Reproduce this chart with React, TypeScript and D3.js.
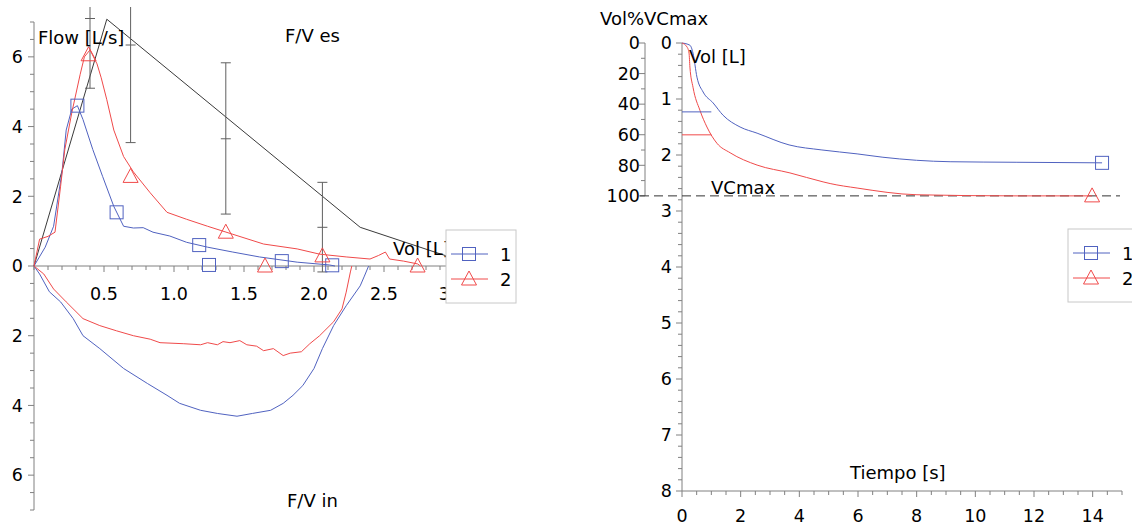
import React from 'react';
import * as d3 from 'd3';

// ---------- Left chart: Flow / Volume ----------
const exp1X = [0, 0.08, 0.14, 0.2, 0.23, 0.27, 0.31, 0.35, 0.42, 0.49, 0.57, 0.64, 0.71, 0.78, 0.85, 0.97, 1.09, 1.24, 1.42, 1.61, 1.88, 2.11, 2.15];
const exp1Y = [0, 0.54, 1.14, 2.7, 3.9, 4.5, 4.6, 4.2, 3.34, 2.57, 1.71, 1.14, 1.09, 1.1, 0.97, 0.86, 0.68, 0.54, 0.4, 0.26, 0.11, 0.03, 0];
const in1X = [0, 0.04, 0.11, 0.19, 0.28, 0.35, 0.47, 0.64, 0.81, 0.95, 1.04, 1.19, 1.31, 1.45, 1.56, 1.69, 1.78, 1.85, 1.92, 2.0, 2.06, 2.14, 2.23, 2.33, 2.36, 2.39];
const in1Y = [0, -0.23, -0.74, -1.03, -1.51, -2.0, -2.37, -2.94, -3.37, -3.71, -3.94, -4.14, -4.23, -4.31, -4.23, -4.14, -3.94, -3.71, -3.43, -2.94, -2.37, -1.71, -1.14, -0.57, -0.29, 0];
const exp2X = [0, 0.04, 0.1, 0.15, 0.19, 0.22, 0.27, 0.33, 0.36, 0.4, 0.45, 0.48, 0.52, 0.57, 0.64, 0.71, 0.83, 0.95, 1.09, 1.24, 1.42, 1.64, 1.88, 2.04, 2.23, 2.4, 2.46, 2.51, 2.54, 2.64, 2.74, 2.76];
const exp2Y = [0, 0.77, 0.85, 0.97, 2.29, 3.34, 4.4, 5.5, 6.0, 6.2, 5.8, 5.4, 4.77, 3.9, 3.14, 2.7, 2.1, 1.54, 1.34, 1.14, 0.91, 0.63, 0.49, 0.34, 0.26, 0.2, 0.3, 0.4, 0.2, 0.14, 0.06, 0];
const in2X = [0, 0.07, 0.14, 0.23, 0.35, 0.47, 0.59, 0.71, 0.83, 0.9, 1.07, 1.19, 1.24, 1.31, 1.35, 1.4, 1.47, 1.52, 1.59, 1.64, 1.71, 1.78, 1.83, 1.91, 1.97, 2.04, 2.14, 2.2, 2.23, 2.26, 2.27];
const in2Y = [0, -0.23, -0.66, -1.03, -1.51, -1.71, -1.86, -2.0, -2.1, -2.2, -2.23, -2.26, -2.2, -2.26, -2.17, -2.2, -2.14, -2.26, -2.3, -2.43, -2.37, -2.57, -2.5, -2.46, -2.23, -2.0, -1.6, -1.23, -0.75, -0.17, 0];
const mark1X = [0.31, 0.59, 1.18, 1.25, 1.77, 2.13];
const mark1Y = [4.6, 1.54, 0.6, 0.03, 0.14, 0.02];
const mark2X = [0.39, 0.69, 1.37, 1.65, 2.06, 2.74];
const mark2Y = [6.06, 2.57, 0.97, 0.0, 0.29, 0.0];
// predicted (reference) curve
const refX = [0, 0.52, 2.33, 3.05];
const refY = [0, 7.08, 1.11, 0.15];
// error bars
const errX = [0.4, 0.69, 1.37, 2.06];
const errMean = [7.1, 6.34, 3.65, 1.11];
const errLow = [5.1, 3.54, 1.49, -0.17];
const errHigh = [9.1, 9.14, 5.83, 2.4];
const flowTicks = [-6, -4, -2, 0, 2, 4, 6];
const volTicks = [0.5, 1.0, 1.5, 2.0, 2.5, 3];

// ---------- Right chart: Volume / Time ----------
const t1 = [0, 0.27, 0.375, 0.51, 0.72, 1.06, 1.4, 1.98, 2.56, 3.65, 4.77, 5.97, 6.85, 9.14, 11.39, 14.32];
const v1 = [0, 0.04, 0.18, 0.61, 0.875, 1.07, 1.29, 1.5, 1.61, 1.82, 1.91, 1.98, 2.04, 2.12, 2.13, 2.14];
const t2 = [0, 0.17, 0.24, 0.27, 0.375, 0.61, 0.85, 1.19, 1.64, 2.56, 3.68, 4.81, 5.05, 5.97, 8.01, 11.42, 13.98];
const v2 = [0, 0.07, 0.18, 0.43, 0.79, 1.2, 1.5, 1.79, 1.96, 2.18, 2.32, 2.48, 2.51, 2.59, 2.71, 2.73, 2.73];
const end1 = { t: 14.32, v: 2.14 };
const end2 = { t: 13.98, v: 2.73 };
const fev1 = [1.23, 1.64]; // horizontal markers at t = 0..1
const VCMAX = 2.73;
const timeTicks = [0, 2, 4, 6, 8, 10, 12, 14];
const volLTicks = [0, 1, 2, 3, 4, 5, 6, 7, 8];
const pctTicks = [0, 20, 40, 60, 80, 100];
const seriesNames = ['1', '2'];

const BLUE = '#5062c0';
const RED = '#f04a4a';
const AXIS = '#808080';
const FONT = 'DejaVu Sans, Verdana, sans-serif';

const zip = (xs: number[], ys: number[]) => xs.map((x, i) => [x, ys[i]] as [number, number]);

function Square({ x, y, c }: { x: number; y: number; c: string }) {
  return <rect x={x - 6.5} y={y - 6.5} width={13} height={13} fill="none" stroke={c} strokeWidth={1} />;
}
function Tri({ x, y, c }: { x: number; y: number; c: string }) {
  return <path d={`M${x},${y - 8}L${x + 7.5},${y + 6}L${x - 7.5},${y + 6}Z`} fill="none" stroke={c} strokeWidth={1} />;
}

function Legend({ x, y, w }: { x: number; y: number; w: number }) {
  return (
    <g>
      <rect x={x} y={y} width={w} height={73} fill="#fff" stroke="#c8c8c8" strokeWidth={1} />
      <line x1={x + 5} x2={x + 42} y1={y + 24} y2={y + 24} stroke={BLUE} />
      <Square x={x + 23} y={y + 24} c={BLUE} />
      <text x={x + 54} y={y + 31} fontSize={18} fontFamily={FONT}>{seriesNames[0]}</text>
      <line x1={x + 5} x2={x + 42} y1={y + 49} y2={y + 49} stroke={RED} />
      <Tri x={x + 23} y={y + 49} c={RED} />
      <text x={x + 54} y={y + 56} fontSize={18} fontFamily={FONT}>{seriesNames[1]}</text>
    </g>
  );
}

export default function App() {
  // left scales
  const x = d3.scaleLinear().domain([0, 3]).range([34, 454]);
  const y = d3.scaleLinear().domain([-7, 7]).range([510, 22]);
  const lineL = d3.line<[number, number]>().x((d) => x(d[0])).y((d) => y(d[1]));

  // right scales
  const t = d3.scaleLinear().domain([0, 15]).range([682, 1122]);
  const v = d3.scaleLinear().domain([0, 8]).range([43, 491]);
  const pct = d3.scaleLinear().domain([0, 100]).range([v(0), v(VCMAX)]);
  const lineR = d3.line<[number, number]>().x((d) => t(d[0])).y((d) => v(d[1])).curve(d3.curveMonotoneX);

  const flowMinor = d3.range(-7, 7.01, 0.5);
  const volMinor = d3.range(0, 3.11, 0.1);
  const timeMinor = d3.range(0, 15.01, 0.5);
  const volLMinor = d3.range(0, 8.01, 0.2);
  const pctMinor = d3.range(0, 100.1, 10);

  const near = (a: number, arr: number[]) => arr.some((b) => Math.abs(a - b) < 1e-6);

  return (
    <svg width={1132} height={528} style={{ position: 'absolute', left: 0, top: 0, background: '#fff' }} fontFamily={FONT}>
      <defs>
        <clipPath id="clipL">
          <rect x={0} y={y(7.43)} width={470} height={520} />
        </clipPath>
      </defs>
      <rect x={0} y={0} width={1132} height={528} fill="#fff" />

      {/* ===== LEFT CHART ===== */}
      <line x1={x(0)} x2={x(0)} y1={y(7)} y2={y(-7)} stroke={AXIS} />
      <line x1={x(0)} x2={x(3.1)} y1={y(0)} y2={y(0)} stroke={AXIS} />
      {flowMinor.map((d) => (
        <line key={'fm' + d} x1={x(0) - (near(d, flowTicks) ? 6 : 4)} x2={x(0)} y1={y(d)} y2={y(d)} stroke={AXIS} />
      ))}
      {flowTicks.map((d) => (
        <text key={'ft' + d} x={x(0) - 11} y={y(d)} dy="0.36em" textAnchor="end" fontSize={17.5}>
          {Math.abs(d)}
        </text>
      ))}
      {volMinor.map((d) => (
        <line key={'vm' + d} x1={x(d)} x2={x(d)} y1={y(0)} y2={y(0) + (near(Math.round(d * 10) / 10, volTicks) ? 6 : 4)} stroke={AXIS} />
      ))}
      {volTicks.map((d) => (
        <text key={'vt' + d} x={d === 3 ? x(d) - 4 : x(d)} y={y(0) + 34} textAnchor={d === 3 ? 'end' : 'middle'} fontSize={17.5}>
          {d === 3 ? '3' : d.toFixed(1)}
        </text>
      ))}

      <g clipPath="url(#clipL)">
        <path d={lineL(zip(refX, refY)) || ''} fill="none" stroke="#3a3a3a" strokeWidth={1} />
        {errX.map((ex, i) => (
          <g key={'eb' + i} stroke="#606060" strokeWidth={1}>
            <line x1={x(ex)} x2={x(ex)} y1={y(errLow[i])} y2={y(errHigh[i])} />
            <line x1={x(ex) - 5} x2={x(ex) + 5} y1={y(errLow[i])} y2={y(errLow[i])} />
            <line x1={x(ex) - 5} x2={x(ex) + 5} y1={y(errHigh[i])} y2={y(errHigh[i])} />
            <line x1={x(ex) - 5} x2={x(ex) + 5} y1={y(errMean[i])} y2={y(errMean[i])} />
          </g>
        ))}
        <path d={lineL(zip(exp1X, exp1Y)) || ''} fill="none" stroke={BLUE} strokeWidth={1} />
        <path d={lineL(zip(in1X, in1Y)) || ''} fill="none" stroke={BLUE} strokeWidth={1} />
        <path d={lineL(zip(exp2X, exp2Y)) || ''} fill="none" stroke={RED} strokeWidth={1} />
        <path d={lineL(zip(in2X, in2Y)) || ''} fill="none" stroke={RED} strokeWidth={1} />
        {mark1X.map((mx, i) => <Square key={'m1' + i} x={x(mx)} y={y(mark1Y[i])} c={BLUE} />)}
        {mark2X.map((mx, i) => <Tri key={'m2' + i} x={x(mx)} y={y(mark2Y[i])} c={RED} />)}
      </g>

      <text x={38} y={44} fontSize={18}>Flow [L/s]</text>
      <text x={285} y={42} fontSize={18}>F/V es</text>
      <text x={393} y={255} fontSize={18}>Vol [L]</text>
      <text x={287} y={507} fontSize={18}>F/V in</text>
      <Legend x={446} y={230} w={70} />

      {/* ===== RIGHT CHART ===== */}
      <line x1={645} x2={645} y1={pct(0)} y2={pct(100)} stroke={AXIS} />
      {pctMinor.map((d) => (
        <line key={'pm' + d} x1={645 - (near(d, pctTicks) ? 6 : 4)} x2={645} y1={pct(d)} y2={pct(d)} stroke={AXIS} />
      ))}
      {pctTicks.map((d) => (
        <text key={'pt' + d} x={640} y={pct(d)} dy="0.36em" textAnchor="end" fontSize={17.5}>{d}</text>
      ))}
      <line x1={t(0)} x2={t(0)} y1={v(0)} y2={v(8)} stroke={AXIS} />
      {volLMinor.map((d) => (
        <line key={'lm' + d} x1={t(0) - (near(Math.round(d * 10) / 10, volLTicks) ? 6 : 4)} x2={t(0)} y1={v(d)} y2={v(d)} stroke={AXIS} />
      ))}
      {volLTicks.map((d) => (
        <text key={'lt' + d} x={672} y={v(d)} dy="0.36em" textAnchor="end" fontSize={17.5}>{d}</text>
      ))}
      <line x1={t(0)} x2={t(15)} y1={v(8)} y2={v(8)} stroke={AXIS} />
      {timeMinor.map((d) => (
        <line key={'tm' + d} x1={t(d)} x2={t(d)} y1={v(8)} y2={v(8) + (near(d, timeTicks) ? 6 : 4)} stroke={AXIS} />
      ))}
      {timeTicks.map((d) => (
        <text key={'tt' + d} x={t(d)} y={522} textAnchor="middle" fontSize={17.5}>{d}</text>
      ))}

      <line x1={640} x2={1120} y1={v(VCMAX)} y2={v(VCMAX)} stroke="#333" strokeDasharray="9,5" strokeWidth={1} />

      <path d={lineR(zip(t1, v1)) || ''} fill="none" stroke={BLUE} strokeWidth={1} />
      <path d={lineR(zip(t2, v2)) || ''} fill="none" stroke={RED} strokeWidth={1} />
      <line x1={t(0)} x2={t(1)} y1={v(fev1[0])} y2={v(fev1[0])} stroke={BLUE} />
      <line x1={t(0)} x2={t(1)} y1={v(fev1[1])} y2={v(fev1[1])} stroke={RED} />
      <Square x={t(end1.t)} y={v(end1.v)} c={BLUE} />
      <Tri x={t(end2.t)} y={v(end2.v)} c={RED} />

      <text x={600} y={25} fontSize={18}>Vol%VCmax</text>
      <text x={689} y={63} fontSize={18}>Vol [L]</text>
      <text x={711} y={194} fontSize={18}>VCmax</text>
      <text x={850} y={479} fontSize={18}>Tiempo [s]</text>
      <Legend x={1068} y={229} w={120} />
    </svg>
  );
}
